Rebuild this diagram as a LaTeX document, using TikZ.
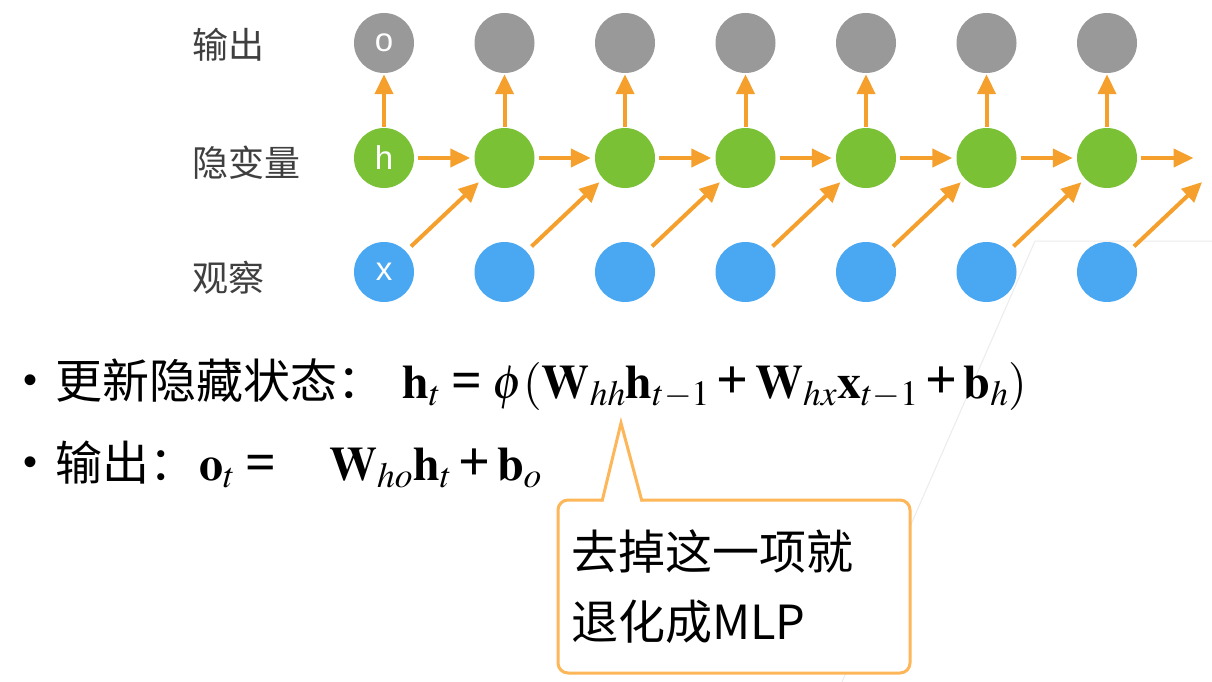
\documentclass[tikz,border=0pt]{standalone}
\usepackage{amsmath}
\usepackage{mathptmx}
\usepackage[no-math]{fontspec}
\newfontfamily\cjk{Noto Sans CJK SC}
\newfontfamily\arialf{Liberation Sans}
\newfontfamily\tnr{Liberation Serif}
\usetikzlibrary{arrows.meta,calc}
\definecolor{outgray}{HTML}{999999}
\definecolor{hidgreen}{HTML}{7BC135}
\definecolor{obsblue}{HTML}{4AA8F2}
\definecolor{arrorange}{HTML}{F5A02C}
\definecolor{noteorange}{HTML}{FDB658}
\definecolor{labelgray}{HTML}{3F3F3F}
\newcommand{\bplus}{\mathbin{\text{\tnr\bfseries\fontsize{56}{56}\selectfont +}}}
\newcommand{\beq}{\mathrel{\text{\tnr\bfseries\fontsize{54}{54}\selectfont =}}}

\begin{document}
\begin{tikzpicture}[x=1pt, y=-1pt, node distance=120.5pt,
  outnode/.style={circle, fill=outgray, minimum size=60pt, inner sep=0pt, text=white, font=\arialf\fontsize{33}{36}\selectfont},
  hidnode/.style={outnode, fill=hidgreen},
  obsnode/.style={outnode, fill=obsblue},
  arr/.style={-{Triangle[length=20pt,width=18pt]}, line width=4pt, draw=arrorange},
  varr/.style={arr, shorten <=1pt, shorten >=1pt},
  harr/.style={arr, shorten <=4pt, shorten >=4pt},
  darr/.style={arr, shorten <=7pt, shorten >=5pt},
  rowlabel/.style={anchor=west, inner sep=0pt, text=labelgray, font=\cjk\fontsize{36}{40}\selectfont},
  bigcjk/.style={anchor=base west, inner sep=0pt, font=\cjk\fontsize{47}{56}\selectfont},
  dot/.style={inner sep=0pt, font=\arialf\fontsize{40}{40}\selectfont},
  formula/.style={anchor=base west, inner sep=0pt, font=\fontsize{48}{58}\selectfont},
  notebox/.style={rectangle, rounded corners=10pt, draw=noteorange, line width=3pt, fill=white, outer sep=0pt, minimum width=352pt, minimum height=173pt, text width=326pt, align=left, font=\cjk\fontsize{47}{70}\selectfont},
  notepen/.style={draw=noteorange, line width=3pt, line join=miter}]
  {
  \useasboundingbox (0,0) rectangle (1212,682);
  \fill[white] (0,0) rectangle (1212,682);
  \draw[gray!15, line width=1pt] (1212,241) -- (1035,241) -- (842,682);

  \node[rowlabel] (lout) at (192,45) {输出};
  \node[rowlabel] (lhid) at (192,163) {隐变量};
  \node[rowlabel] (lobs) at (192,278) {观察};

  \node[outnode] (o1) at (384,43) {o};
  \node[outnode, right of=o1] (o2) {};
  \node[outnode, right of=o2] (o3) {};
  \node[outnode, right of=o3] (o4) {};
  \node[outnode, right of=o4] (o5) {};
  \node[outnode, right of=o5] (o6) {};
  \node[outnode, right of=o6] (o7) {};

  \node[hidnode] (h1) at (384,158) {h};
  \node[hidnode, right of=h1] (h2) {};
  \node[hidnode, right of=h2] (h3) {};
  \node[hidnode, right of=h3] (h4) {};
  \node[hidnode, right of=h4] (h5) {};
  \node[hidnode, right of=h5] (h6) {};
  \node[hidnode, right of=h6] (h7) {};
  \node[coordinate, right of=h7] (hend) {};

  \node[obsnode] (x1) at (384,272) {x};
  \node[obsnode, right of=x1] (x2) {};
  \node[obsnode, right of=x2] (x3) {};
  \node[obsnode, right of=x3] (x4) {};
  \node[obsnode, right of=x4] (x5) {};
  \node[obsnode, right of=x5] (x6) {};
  \node[obsnode, right of=x6] (x7) {};

  \draw[varr] (h1) -- (o1);
  \draw[varr] (h2) -- (o2);
  \draw[varr] (h3) -- (o3);
  \draw[varr] (h4) -- (o4);
  \draw[varr] (h5) -- (o5);
  \draw[varr] (h6) -- (o6);
  \draw[varr] (h7) -- (o7);

  \draw[harr] (h1) -- (h2);
  \draw[harr] (h2) -- (h3);
  \draw[harr] (h3) -- (h4);
  \draw[harr] (h4) -- (h5);
  \draw[harr] (h5) -- (h6);
  \draw[harr] (h6) -- (h7);
  \draw[harr, shorten >=34pt] (h7) -- (hend);

  \draw[darr] (x1) -- (h2);
  \draw[darr] (x2) -- (h3);
  \draw[darr] (x3) -- (h4);
  \draw[darr] (x4) -- (h5);
  \draw[darr] (x5) -- (h6);
  \draw[darr] (x6) -- (h7);
  \draw[darr, shorten >=35pt] (x7) -- (hend);

  \node[dot] (dot1) at (31,384) {•};
  \node[bigcjk] (upd) at (55,398) {更新隐藏状态：};
  \node[formula] (fh) at (402,398) {$\mathbf{h}_t\beq\phi(\mathbf{W}_{hh}\mathbf{h}_{t-1}\bplus\mathbf{W}_{hx}\mathbf{x}_{t-1}\bplus\mathbf{b}_h)$};
  \node[dot] (dot2) at (31,466) {•};
  \node[bigcjk] (outl) at (55,480) {输出：};
  \node[formula] (fo) at (199,480) {$\mathbf{o}_t\beq\hspace{42pt}\mathbf{W}_{ho}\mathbf{h}_t\bplus\mathbf{b}_o$};

  \node[notebox] (note) at (734,586.5) {去掉这一项就\\退化成MLP};
  \coordinate (tip) at (621,423);
  \fill[white] ($(note.north west)+(44,2)$) -- (tip) -- ($(note.north west)+(84,2)$) -- cycle;
  \draw[notepen] ($(note.north west)+(44,1.5)$) -- (tip) -- ($(note.north west)+(84,1.5)$);
  }
\end{tikzpicture}
\end{document}
